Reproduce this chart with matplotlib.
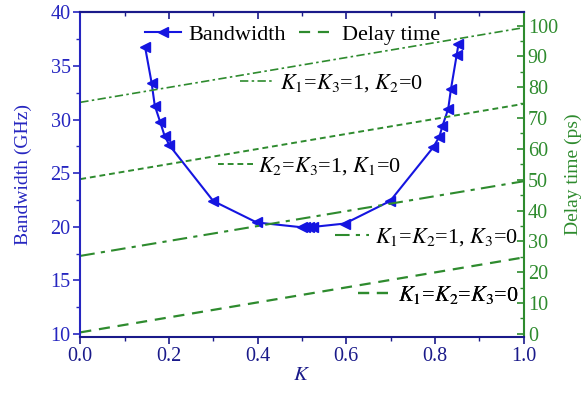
import numpy as np
import matplotlib.pyplot as plt
from matplotlib.ticker import MultipleLocator

plt.rcParams['font.family'] = ['Liberation Serif', 'DejaVu Serif']
plt.rcParams['mathtext.fontset'] = 'stix'

# bandwidth vs K
k_bw = [0.146, 0.161, 0.168, 0.180, 0.190, 0.201, 0.300, 0.398,
        0.500, 0.508, 0.515, 0.524, 0.597, 0.699,
        0.796, 0.810, 0.817, 0.830, 0.836, 0.849, 0.853]
bandwidth = [36.8, 33.4, 31.3, 29.8, 28.5, 27.6, 22.4, 20.4,
             19.95, 19.95, 19.97, 19.98, 20.3, 22.4,
             27.4, 28.4, 29.4, 31.0, 32.8, 36.0, 37.0]

# delay time lines
k_delay = [0.0, 1.0]
delay_000 = [0.5, 24.8]
delay_110 = [25.3, 49.5]
delay_011 = [50.2, 74.6]
delay_101 = [75.1, 99.3]

blue = '#1515e0'
navy = '#1a1a8a'
lblue = '#2626c0'
green = '#2e8b2e'

fig = plt.figure(figsize=(5.86, 3.96), dpi=100)
ax = fig.add_axes([0.137, 0.149, 0.7565, 0.82])
ax2 = ax.twinx()

bw_line, = ax.plot(k_bw, bandwidth, '-', color=blue, lw=1.5, marker='<',
                   ms=6.5, mfc=blue, mec=blue, label='Bandwidth')

l0, = ax2.plot(k_delay, delay_000, color=green, lw=1.6, ls=(0, (5, 3.5)))
l1, = ax2.plot(k_delay, delay_110, color=green, lw=1.5, ls=(0, (7, 3, 2, 3)))
l2, = ax2.plot(k_delay, delay_011, color=green, lw=1.4, ls=(0, (3, 2)))
l3, = ax2.plot(k_delay, delay_101, color=green, lw=1.2, ls=(0, (5, 2, 1.5, 2)))

ax.set_xlim(0, 1)
ax.set_ylim(9.72, 40)
ax2.set_ylim(-1, 104.3)

fs = 14.5
afs = 14
ax.set_xlabel('$K$', fontsize=afs + 1, color=navy, labelpad=0)
ax.set_ylabel('Bandwidth (GHz)', fontsize=afs, color=lblue, labelpad=13)
ax2.set_ylabel('Delay time (ps)', fontsize=afs, color=green, labelpad=5)

ax.xaxis.set_major_locator(MultipleLocator(0.2))
ax.xaxis.set_minor_locator(MultipleLocator(0.1))
ax.xaxis.set_major_formatter(plt.FormatStrFormatter('%.1f'))
ax.yaxis.set_major_locator(MultipleLocator(5))
ax.yaxis.set_minor_locator(MultipleLocator(2.5))
ax2.yaxis.set_major_locator(MultipleLocator(10))
ax2.yaxis.set_minor_locator(MultipleLocator(5))

ax.tick_params(axis='x', which='both', direction='out', colors=navy,
               labelsize=fs, pad=2)
ax.tick_params(axis='x', which='major', length=5, width=1.2)
ax.tick_params(axis='x', which='minor', length=3, width=1.0)
ax.tick_params(axis='y', which='both', direction='out', colors=lblue,
               labelsize=fs, pad=2)
ax.tick_params(axis='y', which='major', length=5, width=1.2)
ax.tick_params(axis='y', which='minor', length=3, width=1.0)
ax2.tick_params(axis='y', which='both', direction='in', colors=green,
                labelsize=fs, pad=3)
ax2.tick_params(axis='y', which='major', length=5, width=1.2)
ax2.tick_params(axis='y', which='minor', length=3, width=1.0)

# top axis with inward ticks, no labels
top = ax.secondary_xaxis('top')
top.xaxis.set_major_locator(MultipleLocator(0.2))
top.xaxis.set_minor_locator(MultipleLocator(0.1))
top.tick_params(axis='x', which='both', direction='in', colors=navy,
                labeltop=False)
top.tick_params(axis='x', which='major', length=5, width=1.2)
top.tick_params(axis='x', which='minor', length=3, width=1.0)
top.spines['top'].set_color(navy)
top.spines['top'].set_linewidth(1.5)

for s in ['left', 'bottom', 'top']:
    ax2.spines[s].set_color(navy)
    ax2.spines[s].set_linewidth(1.5)
ax2.spines['left'].set_color(lblue)
ax2.spines['right'].set_color(green)
ax2.spines['right'].set_linewidth(1.5)
for s in ax.spines.values():
    s.set_visible(False)

lfs = 16
# main legend
leg = ax2.legend([bw_line, l0], ['Bandwidth', 'Delay time'], loc='upper center',
                 bbox_to_anchor=(0.479, 1.0), ncol=2, frameon=False, fontsize=lfs,
                 numpoints=1, handlelength=1.65, handletextpad=0.3,
                 columnspacing=0.6, borderaxespad=0.15)
ax2.add_artist(leg)

# inline labels for each delay curve
labels = [(l3, r'$K_1$=$K_3$=1, $K_2$=0', (0.360, 0.782)),
          (l2, r'$K_2$=$K_3$=1, $K_1$=0', (0.311, 0.526)),
          (l1, r'$K_1$=$K_2$=1, $K_3$=0', (0.574, 0.308)),
          (l0, r'$K_1$=$K_2$=$K_3$=0', (0.626, 0.129))]
for h, txt, pos in labels:
    lg = ax2.legend([h], [txt], loc='center left', bbox_to_anchor=pos,
                    frameon=False, fontsize=lfs, handlelength=1.55,
                    handletextpad=0.25, borderaxespad=0, borderpad=0)
    ax2.add_artist(lg)

plt.savefig('out.png', dpi=100)
